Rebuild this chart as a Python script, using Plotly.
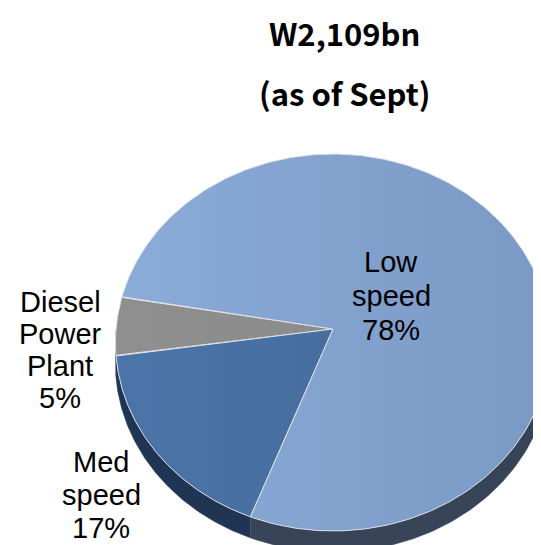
import numpy as np
import plotly.graph_objects as go

# ---- data ----
categories = ["Diesel Power Plant", "Med speed", "Low speed"]
shares = [5, 17, 78]
title_lines = ["W2,109bn", "(as of Sept)"]

# ---- style ----
top_colors = [["#8f8f8f", "#888888"], ["#4b75a9", "#416694"], ["#8babd8", "#7a99c5"]]
rim_colors = ["#5c5c5c", "#1f3553", "#374357"]
line_col = "rgba(225,225,230,0.95)"

CX, APY = 325, 321       # projected centre of the disc (apex)
RX, RY = 217, 187.5      # radii
K = 0.0716               # perspective factor
DEPTH = 21               # rim thickness
START = 170.0            # angle of first slice edge (deg)

label_pos = {            # x centre, first line centre y, line spacing
    "Diesel Power Plant": (52, 294, 32),
    "Med speed": (93, 454, 33),
    "Low speed": (383, 254, 34),
}


def proj(theta_deg):
    t = np.radians(theta_deg)
    d = 1 + K * np.sin(t)
    return CX + RX * np.cos(t) / d, APY - RY * np.sin(t) / d


fig = go.Figure()
total = float(sum(shares))
bounds = START + np.cumsum([0] + shares) / total * 360.0

# rims (front side only)
for i in range(len(shares)):
    a0, a1 = bounds[i], bounds[i + 1]
    for lo, hi in [(180, 360), (540, 720)]:
        s, e = max(a0, lo), min(a1, hi)
        if e > s:
            x, y = proj(np.linspace(s, e, 120))
            xs = np.concatenate([x, x[::-1]])
            ys = np.concatenate([y, y[::-1] + DEPTH])
            fig.add_trace(go.Scatter(
                x=xs, y=ys, fill="toself", fillcolor=rim_colors[i],
                mode="lines", line=dict(width=0.6, color=rim_colors[i]),
                hoverinfo="skip", showlegend=False))

# top faces
for i in range(len(shares)):
    a0, a1 = bounds[i], bounds[i + 1]
    ax, ay = proj(np.linspace(a0, a1, 300))
    x = np.concatenate([[CX], ax, [CX]])
    y = np.concatenate([[APY], ay, [APY]])
    c0, c1 = top_colors[i]
    fig.add_trace(go.Scatter(
        x=x, y=y, fill="toself",
        fillgradient=dict(type="horizontal", colorscale=[[0, c0], [1, c1]],
                          start=CX - RX, stop=CX + RX),
        mode="lines", line=dict(width=1, color=line_col),
        name=categories[i], hoverinfo="name", showlegend=False))

annotations = []
for cat, v in zip(categories, shares):
    lx, ly, sp = label_pos[cat]
    lines = cat.split() + [f"{v}%"]
    for k, ln in enumerate(lines):
        annotations.append(dict(
            x=lx, y=ly + k * sp, xref="x", yref="y", text=ln, showarrow=False,
            xanchor="center", yanchor="middle",
            font=dict(family="Liberation Sans, Arial, sans-serif", size=29, color="#000000")))

title_y = [24, 84]
for ty, tl in zip(title_y, title_lines):
    annotations.append(dict(
        x=336, y=ty, xref="x", yref="y", text=tl, showarrow=False,
        xanchor="center", yanchor="middle",
        font=dict(family="Noto Sans CJK KR, Noto Sans, sans-serif", size=31,
                  color="#000000", weight="bold")))

fig.update_layout(
    width=541, height=545,
    margin=dict(l=0, r=0, t=0, b=0),
    paper_bgcolor="white", plot_bgcolor="white",
    xaxis=dict(range=[0, 541], visible=False, fixedrange=True),
    yaxis=dict(range=[545, 0], visible=False, fixedrange=True),
    annotations=annotations,
    showlegend=False,
)

fig.write_html("out.html")
